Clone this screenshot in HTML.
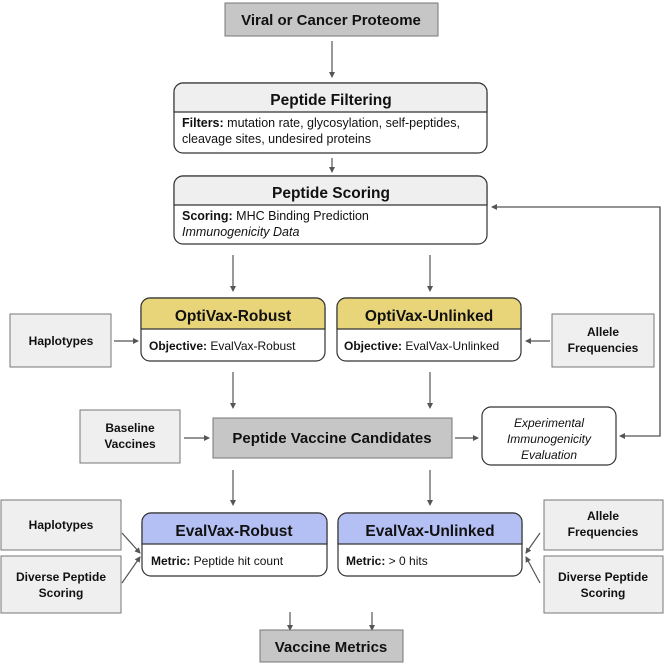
<!DOCTYPE html>
<html><head><style>body{margin:0;background:#fff}svg{display:block}</style></head><body>
<svg width="664" height="664" viewBox="0 0 664 664" xmlns="http://www.w3.org/2000/svg" font-family="Liberation Sans, sans-serif">
<defs><marker id="a" markerWidth="6" markerHeight="6" refX="5" refY="3" orient="auto" markerUnits="userSpaceOnUse"><path d="M0,0 L6,3 L0,6z" fill="#555"/></marker></defs>
<g stroke="#555" stroke-width="1.2" fill="none" marker-end="url(#a)">
<line x1="332" y1="41" x2="332" y2="77"/>
<line x1="332" y1="158" x2="332" y2="172"/>
<line x1="233" y1="255" x2="233" y2="291"/>
<line x1="430" y1="255" x2="430" y2="291"/>
<line x1="114" y1="341" x2="138" y2="341"/>
<line x1="550" y1="341" x2="526" y2="341"/>
<line x1="233" y1="372" x2="233" y2="408"/>
<line x1="430" y1="372" x2="430" y2="408"/>
<line x1="184" y1="438" x2="209" y2="438"/>
<line x1="455" y1="438" x2="478" y2="438"/>
<polyline points="660,207 660,436 620,436" />
<polyline points="660,436 660,207 492,207" />
<line x1="233" y1="470" x2="233" y2="505"/>
<line x1="430" y1="470" x2="430" y2="505"/>
<line x1="122" y1="533" x2="140" y2="553"/>
<line x1="122" y1="583" x2="140" y2="557"/>
<line x1="540" y1="533" x2="526" y2="553"/>
<line x1="540" y1="583" x2="526" y2="557"/>
<line x1="290" y1="612" x2="290" y2="630"/>
<line x1="372" y1="612" x2="372" y2="630"/>
</g>
<g stroke="#777" stroke-width="1">
<rect x="225" y="3" width="213" height="33" fill="#c6c6c6"/>
<rect x="213" y="418" width="239" height="40" fill="#c6c6c6"/>
<rect x="260" y="630" width="143" height="32" fill="#c6c6c6"/>
<rect x="10" y="314" width="101" height="53" fill="#efefef"/>
<rect x="552" y="314" width="102" height="53" fill="#efefef"/>
<rect x="80" y="410" width="100" height="53" fill="#efefef"/>
<rect x="1" y="500" width="120" height="50" fill="#efefef"/>
<rect x="1" y="556" width="120" height="57" fill="#efefef"/>
<rect x="544" y="500" width="119" height="50" fill="#efefef"/>
<rect x="544" y="556" width="119" height="57" fill="#efefef"/>
</g>
<g stroke="#333" stroke-width="1.2">
<rect x="174" y="83" width="313" height="70" rx="9" fill="#fff"/>
<path d="M174,112 V92 a9,9 0 0 1 9,-9 H478 a9,9 0 0 1 9,9 V112Z" fill="#efefef"/>
<rect x="174" y="176" width="313" height="68" rx="9" fill="#fff"/>
<path d="M174,205 V185 a9,9 0 0 1 9,-9 H478 a9,9 0 0 1 9,9 V205Z" fill="#efefef"/>
<rect x="141" y="298" width="184" height="63" rx="9" fill="#fff"/>
<path d="M141,329 V307 a9,9 0 0 1 9,-9 H316 a9,9 0 0 1 9,9 V329Z" fill="#e8d57a"/>
<rect x="337" y="298" width="184" height="63" rx="9" fill="#fff"/>
<path d="M337,329 V307 a9,9 0 0 1 9,-9 H512 a9,9 0 0 1 9,9 V329Z" fill="#e8d57a"/>
<rect x="142" y="513" width="185" height="63" rx="9" fill="#fff"/>
<path d="M142,544 V522 a9,9 0 0 1 9,-9 H318 a9,9 0 0 1 9,9 V544Z" fill="#b4c0f4"/>
<rect x="338" y="513" width="184" height="63" rx="9" fill="#fff"/>
<path d="M338,544 V522 a9,9 0 0 1 9,-9 H513 a9,9 0 0 1 9,9 V544Z" fill="#b4c0f4"/>
<rect x="482" y="407" width="134" height="58" rx="9" fill="#fff"/>
</g>
<g fill="#111" text-anchor="middle" font-weight="bold">
<text x="331" y="25" font-size="15">Viral or Cancer Proteome</text>
<text x="331" y="105" font-size="15.5">Peptide Filtering</text>
<text x="331" y="198" font-size="15.5">Peptide Scoring</text>
<text x="233" y="321" font-size="15.5">OptiVax-Robust</text>
<text x="429" y="321" font-size="15.5">OptiVax-Unlinked</text>
<text x="234" y="536" font-size="15.5">EvalVax-Robust</text>
<text x="430" y="536" font-size="15.5">EvalVax-Unlinked</text>
<text x="332" y="443" font-size="15">Peptide Vaccine Candidates</text>
<text x="331" y="652" font-size="15">Vaccine Metrics</text>
<g font-size="12">
<text x="61" y="345">Haplotypes</text>
<text x="603" y="336">Allele</text><text x="603" y="352">Frequencies</text>
<text x="130" y="432">Baseline</text><text x="130" y="448">Vaccines</text>
<text x="61" y="529">Haplotypes</text>
<text x="61" y="581">Diverse Peptide</text><text x="61" y="597">Scoring</text>
<text x="603" y="520">Allele</text><text x="603" y="536">Frequencies</text>
<text x="603" y="581">Diverse Peptide</text><text x="603" y="597">Scoring</text>
</g></g>
<g fill="#111" font-size="12.5">
<text x="182" y="127"><tspan font-weight="bold">Filters:</tspan> mutation rate, glycosylation, self-peptides,</text>
<text x="182" y="143">cleavage sites, undesired proteins</text>
<text x="182" y="220"><tspan font-weight="bold">Scoring:</tspan> MHC Binding Prediction</text>
<text x="182" y="236" font-style="italic">Immunogenicity Data</text>
<text x="149" y="350" font-size="12"><tspan font-weight="bold">Objective:</tspan> EvalVax-Robust</text>
<text x="344" y="350" font-size="12"><tspan font-weight="bold">Objective:</tspan> EvalVax-Unlinked</text>
<text x="151" y="565" font-size="12"><tspan font-weight="bold">Metric:</tspan> Peptide hit count</text>
<text x="346" y="565" font-size="12"><tspan font-weight="bold">Metric:</tspan> &gt; 0 hits</text>
<g text-anchor="middle" font-style="italic" font-size="12">
<text x="549" y="427">Experimental</text><text x="549" y="443">Immunogenicity</text><text x="549" y="459">Evaluation</text>
</g></g>
</svg>
</body></html>
